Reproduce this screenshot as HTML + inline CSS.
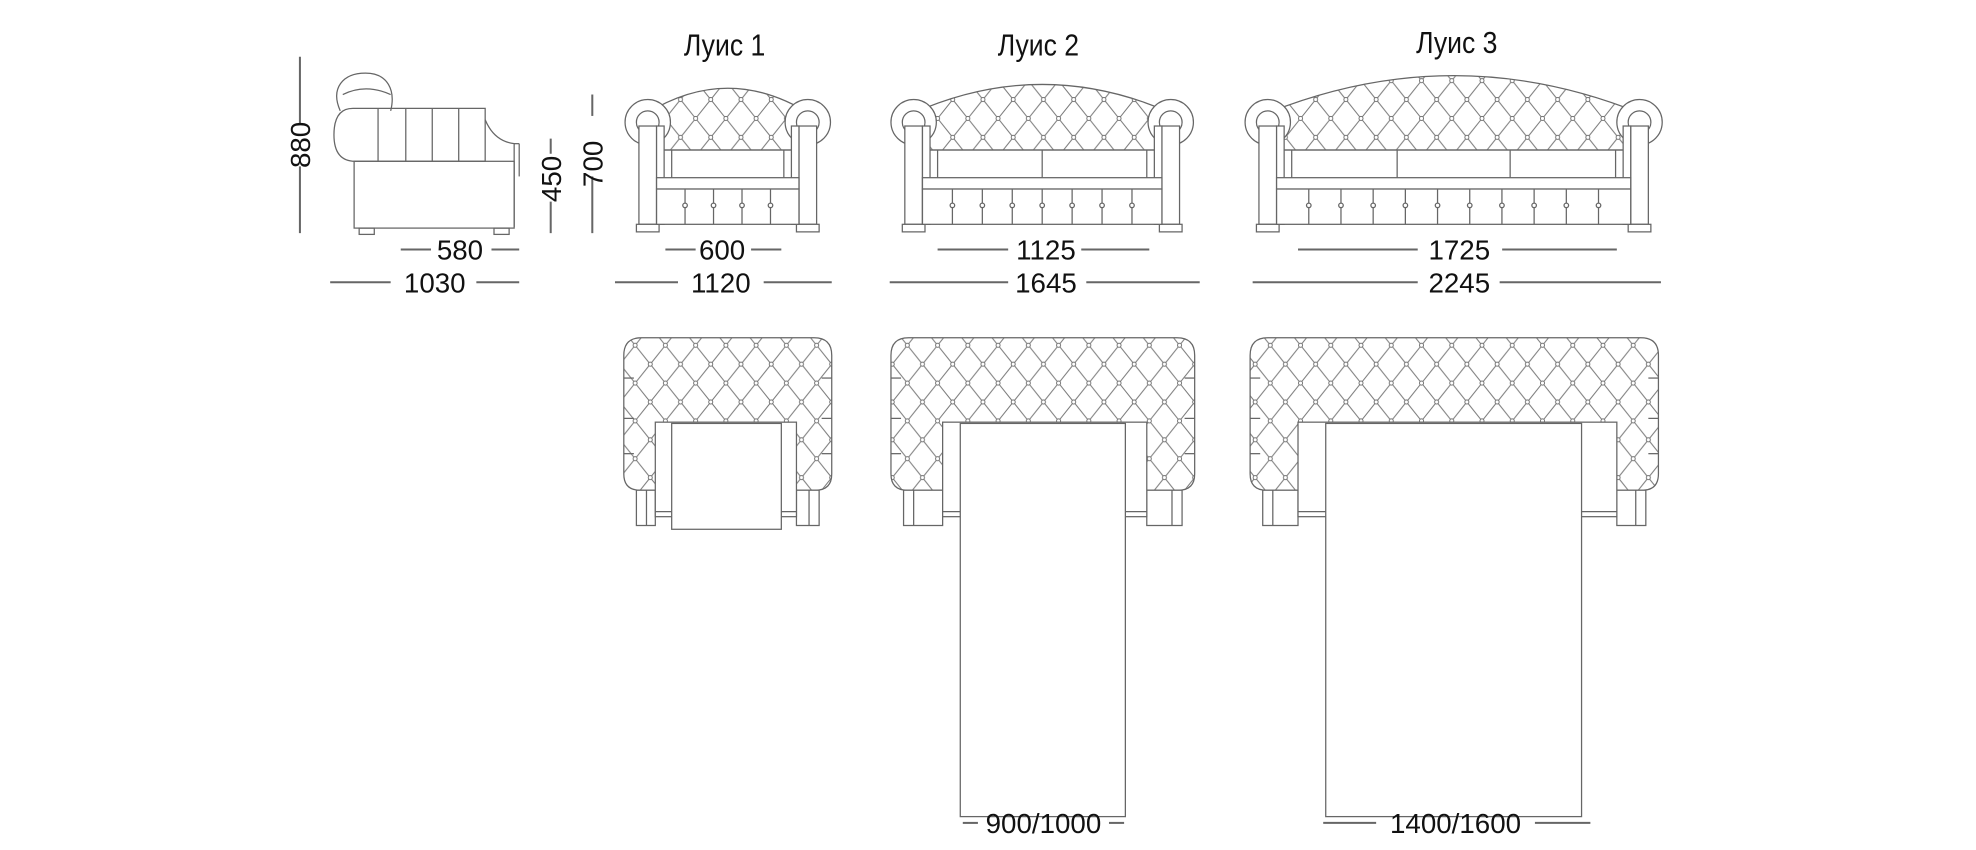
<!DOCTYPE html>
<html><head><meta charset="utf-8"><style>
html,body{margin:0;padding:0;background:#fff;}
svg{display:block}
text{font-family:"Liberation Sans",sans-serif;fill:#111}
</style></head><body>
<svg id="s" width="1976" height="850" viewBox="0 0 1568 674.5" preserveAspectRatio="none" xmlns="http://www.w3.org/2000/svg">
<defs>
<pattern id="tuft" width="24" height="30" patternUnits="userSpaceOnUse" x="0" y="4">
<path d="M0 0 L12 15 L0 30 M24 0 L12 15 L24 30" stroke="#777" stroke-width="0.8" fill="none"/>
<circle cx="12" cy="15" r="1.6" fill="#fff" stroke="#666" stroke-width="0.7"/>
<circle cx="0" cy="0" r="1.6" fill="#fff" stroke="#666" stroke-width="0.7"/>
<circle cx="24" cy="0" r="1.6" fill="#fff" stroke="#666" stroke-width="0.7"/>
<circle cx="0" cy="30" r="1.6" fill="#fff" stroke="#666" stroke-width="0.7"/>
<circle cx="24" cy="30" r="1.6" fill="#fff" stroke="#666" stroke-width="0.7"/>
</pattern>
</defs>
<g id="g" stroke="#666" stroke-width="1" fill="none"></g>
<g font-size="22" text-anchor="middle">
<text x="575" y="44" font-size="24" transform="translate(575 0) scale(0.88 1) translate(-575 0)">Луис 1</text>
<text x="824" y="44" font-size="24" transform="translate(824 0) scale(0.88 1) translate(-824 0)">Луис 2</text>
<text x="1156" y="42" font-size="24" transform="translate(1156 0) scale(0.88 1) translate(-1156 0)">Луис 3</text>
<text x="365" y="206">580</text>
<text x="345" y="232">1030</text>
<text x="573" y="206">600</text>
<text x="572" y="232">1120</text>
<text x="830" y="206">1125</text>
<text x="830" y="232">1645</text>
<text x="1158" y="206">1725</text>
<text x="1158" y="232">2245</text>
<text x="828" y="661">900/1000</text>
<text x="1155" y="661">1400/1600</text>
<text transform="translate(246 115) rotate(-90)">880</text>
<text transform="translate(445 142) rotate(-90)">450</text>
<text transform="translate(478 130) rotate(-90)">700</text>
</g>
</svg>
<script>
const g=document.getElementById('g');let h='';
const L=(a,b,c,d,w)=>h+=`<line x1="${a}" y1="${b}" x2="${c}" y2="${d}"${w?` stroke-width="${w}"`:''}/>`;
const R=(x,y,w,ht,f)=>h+=`<rect x="${x}" y="${y}" width="${w}" height="${ht}"${f?` fill="${f}"`:''}/>`;
[[318,342,198],[390,412,198],[262,310,224],[378,412,224],[528,552,198],[596,620,198],[488,538,224],[606,660,224],
[744,800,198],[858,912,198],[706,800,224],[862,952,224],[1030,1125,198],[1192,1283,198],[994,1125,224],[1190,1318,224],
[764,776,653],[880,892,653],[1050,1092,653],[1218,1262,653]].forEach(d=>L(d[0],d[2],d[1],d[2],1.6));
L(238,45,238,98,1.6);L(238,132,238,185,1.6);L(437,110,437,122,1.6);L(437,160,437,185,1.6);L(470,75,470,92,1.6);L(470,140,470,185,1.6);
// side view
h+=`<path d="M270 88 C262 70 272 58 290 58 C308 58 314 72 310 88"/>`;
h+=`<path d="M272 75 Q290 66 310 75"/>`;
h+=`<path d="M280 86 L385 86 L385 128 L282 128 Q265 128 265 107 Q265 86 280 86Z"/>`;
[300,322,343,364].forEach(x=>L(x,86,x,128));
h+=`<path d="M385 95 Q392 112 408 114 L408 180"/>`;L(408,114,412,114);L(412,114,412,140);
R(281,128,127,53);R(285,181,12,5);R(392,181,12,5);
// front views
function front(x0,x1,top,nc,nb){
 const a=x0+32,b=x1-32,cx=(x0+x1)/2;
 h+=`<path d="M${x0+18} 90 Q${cx} ${2*top-90} ${x1-18} 90 L${b} 119 L${a} 119Z" fill="url(#tuft)"/>`;
 [[x0+19,1],[x1-19,-1]].forEach(([c,s])=>{
  h+=`<circle cx="${c}" cy="97" r="18" fill="#fff"/><circle cx="${c}" cy="97" r="9"/>`;
  R(c-7,100,14,78,'#fff');
  R(s>0?c+7:c-13,100,6,78,'#fff');
  R(c-9,178,18,6,'#fff');
 });
 L(a,119,b,119);L(a+6,119,a+6,141);L(b-6,119,b-6,141);
 for(let i=1;i<nc;i++){const x=a+(b-a)*i/nc;L(x,119,x,141);}
 R(x0+26,141,x1-x0-52,9,'#fff');R(x0+26,150,x1-x0-52,28,'#fff');
 for(let i=1;i<=nb;i++){const x=x0+26+(x1-x0-52)*i/(nb+1);L(x,150,x,178);h+=`<circle cx="${x}" cy="163" r="1.8" fill="#fff"/>`;}
}
front(495,660,70,1,4);front(706,948,67,2,7);front(987,1320,60,3,10);
// top views
function topv(x0,x1,fx0,fx1,bx0,bx1,by1){
 h+=`<path d="M${x0+14} 268 L${x1-14} 268 Q${x1} 268 ${x1} 282 L${x1} 376 Q${x1} 389 ${x1-13} 389 L${x0+13} 389 Q${x0} 389 ${x0} 376 L${x0} 282 Q${x0} 268 ${x0+14} 268Z" fill="url(#tuft)"/>`;
 [300,332,360].forEach(y=>{L(x0,y,x0+8,y);L(x1-8,y,x1,y);});
 R(x0+10,389,fx0-x0-10,28,'#fff');R(fx1,389,x1-10-fx1,28,'#fff');
 L(x0+18,389,x0+18,417);L(x1-18,389,x1-18,417);
 R(fx0,335,fx1-fx0,75,'#fff');L(fx0,406,bx0,406);L(fx1,406,bx1,406);
 R(bx0,336,bx1-bx0,by1-336,'#fff');
}
topv(495,660,520,632,533,620,420);
topv(707,948,748,910,762,893,648);
topv(992,1316,1030,1283,1052,1255,648);
g.innerHTML=h;
</script>
</body></html>
